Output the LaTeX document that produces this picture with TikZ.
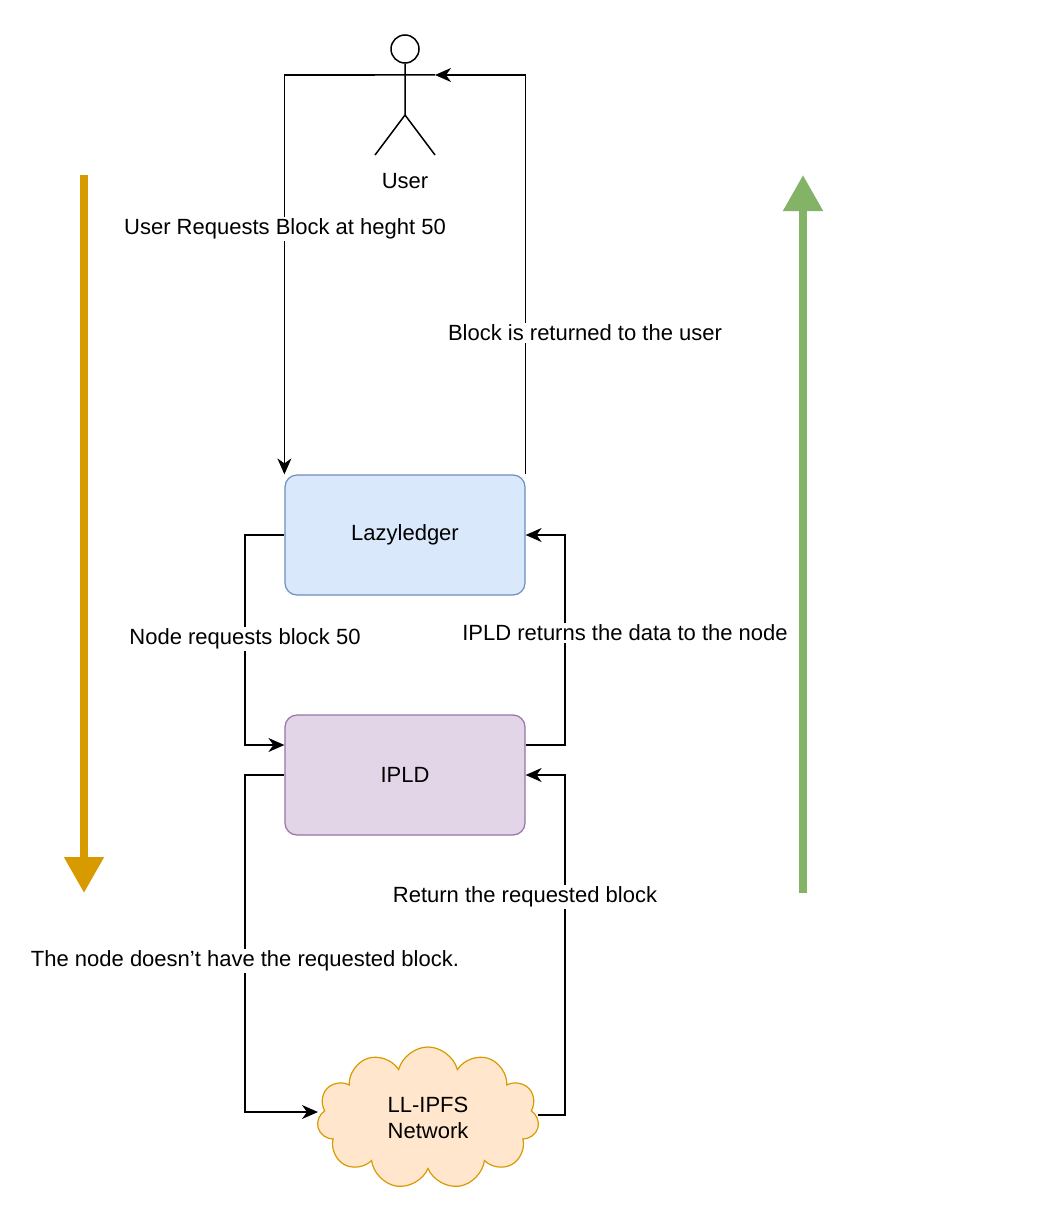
\documentclass[tikz,border=0pt]{standalone}
\usepackage{fontspec}
\setmainfont{Liberation Sans}
\usetikzlibrary{arrows.meta,shapes.symbols}
\definecolor{llfill}{HTML}{DAE8FC}\definecolor{lldraw}{HTML}{6C8EBF}
\definecolor{ipfill}{HTML}{E1D5E7}\definecolor{ipdraw}{HTML}{9673A6}
\definecolor{nwfill}{HTML}{FFE6CC}\definecolor{nwdraw}{HTML}{D79B00}
\definecolor{upgreen}{HTML}{82B366}
\begin{document}
\begin{tikzpicture}[x=1pt,y=-1pt,font=\fontsize{22}{26}\selectfont,
  box/.style={rounded corners=12pt, minimum width=240pt, minimum height=120pt, line width=1.2pt},
  flow/.style={line width=1.5pt, -{Stealth[length=16pt,width=14pt,inset=5pt]}},
  lbl/.style={fill=white, inner sep=2pt},
  big/.style={line width=8pt, -{Triangle[length=36pt,width=38pt]}}]
\useasboundingbox (0,0) rectangle (1036,1212);
% user
\node[circle, draw, line width=1.5pt, minimum size=28pt, inner sep=0pt] (head) at (405,49) {};
\coordinate (hip) at (405,115);
\draw[line width=1.5pt] (head.south) -- (hip) (375,75) -- (435,75) (hip) -- (375,155) (hip) -- (435,155);
\node (user) at (405,181) {User};
\coordinate (uleft) at (375,75);
\coordinate (uright) at (435,75);
% boxes
\node[box, fill=llfill, draw=lldraw] (ll) at (405,535) {Lazyledger};
\node[box, fill=ipfill, draw=ipdraw] (ipld) at (405,775) {IPLD};
\node[cloud, cloud puffs=11, aspect=1.6, minimum width=222pt, minimum height=142pt, fill=nwfill, draw=nwdraw, line width=1.2pt, align=center] (net) at (428,1118) {LL-IPFS\\Network};
% turning points
\coordinate (a1) at (245,535); \coordinate (a2) at (245,745);
\coordinate (b1) at (565,745); \coordinate (b2) at (565,535);
\coordinate (c1) at (245,775); \coordinate (c2) at (245,1112);
\coordinate (d1) at (565,1115); \coordinate (d2) at (565,775);
% connectors
\draw[flow] (uleft) -| (ll.north west);
\draw[flow] (ll.north east) |- (uright);
\draw[flow] (ll.west) -- (a1) -- (a2) -- ([yshift=30pt]ipld.west);
\draw[flow] ([yshift=30pt]ipld.east) -- (b1) -- (b2) -- (ll.east);
\draw[flow] (ipld.west) -- (c1) -- (c2) -- (net.west |- c2);
\draw[flow] (net.east |- d1) -- (d1) -- (d2) -- (ipld.east);
% labels
\node[lbl] at (285,229) {User Requests Block at heght 50};
\node[lbl] at (585,333) {Block is returned to the user};
\node[lbl] at (245,639) {Node requests block 50};
\node[lbl] at (625,633) {IPLD returns the data to the node};
\node[lbl] at (245,961) {The node doesn't have the requested block.};
\node[lbl] at (525,897) {Return the requested block};
% side arrows
\coordinate (dtop) at (84,175); \coordinate (dbot) at (84,893);
\coordinate (ubot) at (803,893); \coordinate (utop) at (803,175);
\draw[big, draw=nwdraw, fill=nwdraw] (dtop) -- (dbot);
\draw[big, draw=upgreen, fill=upgreen] (ubot) -- (utop);
\end{tikzpicture}
\end{document}
